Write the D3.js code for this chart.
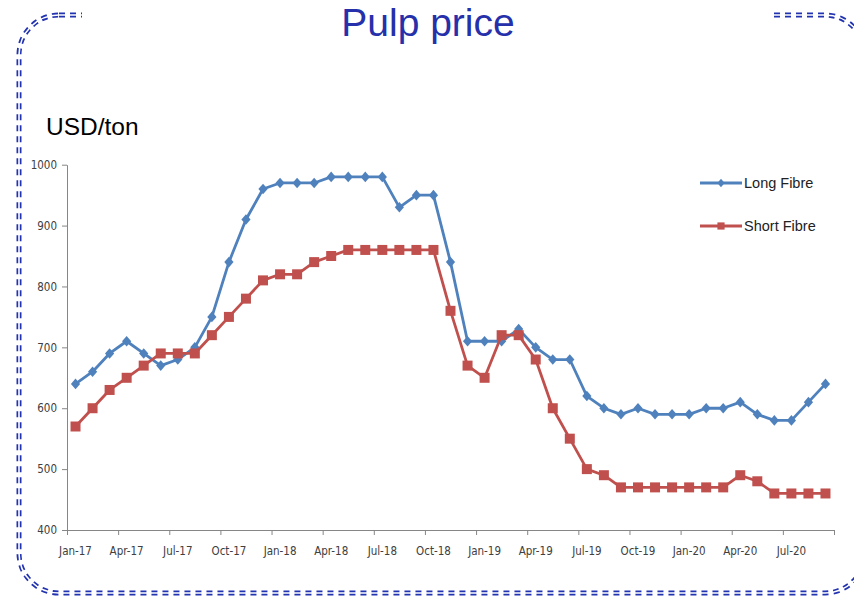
<!DOCTYPE html>
<html>
<head>
<meta charset="utf-8">
<script src="https://cdn.jsdelivr.net/npm/d3@7"></script>
<style>
  html, body { margin: 0; padding: 0; background: #fff; }
  svg { display: block; }
  .tick text { font-family: "Liberation Sans Narrow", "DejaVu Sans Condensed", "Liberation Sans", sans-serif; fill: #404040; }
</style>
</head>
<body>
<div id="chart"></div>
<script>
const months = [
  "Jan-17","Feb-17","Mar-17","Apr-17","May-17","Jun-17","Jul-17","Aug-17","Sep-17","Oct-17","Nov-17","Dec-17",
  "Jan-18","Feb-18","Mar-18","Apr-18","May-18","Jun-18","Jul-18","Aug-18","Sep-18","Oct-18","Nov-18","Dec-18",
  "Jan-19","Feb-19","Mar-19","Apr-19","May-19","Jun-19","Jul-19","Aug-19","Sep-19","Oct-19","Nov-19","Dec-19",
  "Jan-20","Feb-20","Mar-20","Apr-20","May-20","Jun-20","Jul-20","Aug-20","Sep-20"
];

const longFibre = [
  640, 660, 690, 710, 690, 670, 680, 700, 750, 840, 910, 960,
  970, 970, 970, 980, 980, 980, 980, 930, 950, 950, 840, 710,
  710, 710, 730, 700, 680, 680, 620, 600, 590, 600, 590, 590,
  590, 600, 600, 610, 590, 580, 580, 610, 640
];

const shortFibre = [
  570, 600, 630, 650, 670, 690, 690, 690, 720, 750, 780, 810,
  820, 820, 840, 850, 860, 860, 860, 860, 860, 860, 760, 670,
  650, 720, 720, 680, 600, 550, 500, 490, 470, 470, 470, 470,
  470, 470, 470, 490, 480, 460, 460, 460, 460
];

const yTicks = [400, 500, 600, 700, 800, 900, 1000];
const xLabels = months.filter((m, i) => i % 3 === 0);

const width = 854, height = 596;
const blue = "#4F81BD", red = "#C0504D", frame = "#2233b0";

const svg = d3.select("#chart").append("svg")
  .attr("width", width)
  .attr("height", height);

// rounded dashed frame (double line)
const fr = { x: 19, y: 15, w: 846, h: 578, r: 40 };
svg.append("rect")
  .attr("x", fr.x).attr("y", fr.y).attr("width", fr.w).attr("height", fr.h)
  .attr("rx", fr.r).attr("ry", fr.r)
  .attr("fill", "none").attr("stroke", frame)
  .attr("stroke-width", 5).attr("stroke-dasharray", "6 5");
svg.append("rect")
  .attr("x", fr.x).attr("y", fr.y).attr("width", fr.w).attr("height", fr.h)
  .attr("rx", fr.r).attr("ry", fr.r)
  .attr("fill", "none").attr("stroke", "#fff").attr("stroke-width", 1.6);

// title box covers the top of the frame
svg.append("rect").attr("x", 82).attr("y", 0).attr("width", 688).attr("height", 34).attr("fill", "#fff");
svg.append("text")
  .attr("x", 428).attr("y", 36)
  .attr("text-anchor", "middle")
  .attr("font-family", "Liberation Sans, Arial, sans-serif")
  .attr("font-size", 39)
  .attr("fill", "#2530aa")
  .text("Pulp price");

svg.append("text")
  .attr("x", 46).attr("y", 135)
  .attr("font-family", "Liberation Sans, Arial, sans-serif")
  .attr("font-size", 24.5)
  .attr("fill", "#000")
  .text("USD/ton");

const plot = { left: 67, right: 834, top: 164.7, bottom: 530 };

const x = d3.scaleBand().domain(months).range([plot.left, plot.right]).padding(0);
const xIdx = d3.scaleLinear().domain([0, months.length]).range([plot.left, plot.right]);
const y = d3.scaleLinear().domain([400, 1000]).range([plot.bottom, plot.top]);
const cx = m => x(m) + x.bandwidth() / 2;

// y axis
const yAxis = svg.append("g")
  .attr("transform", `translate(${plot.left},0)`)
  .call(d3.axisLeft(y).tickValues(yTicks).tickFormat(d3.format("d"))
    .tickSizeInner(5).tickSizeOuter(0).tickPadding(5));
yAxis.selectAll("text").attr("font-size", 11.5);

// x axis: tick marks at category boundaries, labels centred on categories
svg.append("g")
  .attr("transform", `translate(0,${plot.bottom})`)
  .call(d3.axisBottom(xIdx).tickValues(d3.range(0, months.length + 1, 3)).tickFormat("").tickSizeInner(5).tickSizeOuter(0));

const xLabelAxis = svg.append("g")
  .attr("transform", `translate(0,${plot.bottom})`)
  .call(d3.axisBottom(x).tickValues(xLabels).tickSize(0).tickPadding(17));
xLabelAxis.select(".domain").remove();
xLabelAxis.selectAll("text").attr("font-size", 11.5);

svg.selectAll(".domain, .tick line").attr("stroke", "#868686");

// series
const series = [
  { name: "Long Fibre", values: longFibre, color: blue, shape: "diamond" },
  { name: "Short Fibre", values: shortFibre, color: red, shape: "square" }
];

const markerPath = (shape, s) => shape === "diamond"
  ? `M0,${-s * 1.15}L${s},0L0,${s * 1.15}L${-s},0Z`
  : `M${-s},${-s}H${s}V${s}H${-s}Z`;

const line = d3.line().x((d, i) => cx(months[i])).y(d => y(d));

series.forEach(s => {
  svg.append("path")
    .attr("d", line(s.values))
    .attr("fill", "none")
    .attr("stroke", s.color)
    .attr("stroke-width", 2.8)
    .attr("stroke-linejoin", "round");

  svg.append("g").selectAll("path")
    .data(s.values)
    .join("path")
    .attr("transform", (d, i) => `translate(${cx(months[i])},${y(d)})`)
    .attr("d", markerPath(s.shape, s.shape === "diamond" ? 4.6 : 5))
    .attr("fill", s.color);
});

// legend
const legend = svg.append("g");
series.forEach((s, i) => {
  const ly = 183 + i * 43;
  legend.append("line")
    .attr("x1", 700).attr("x2", 742).attr("y1", ly).attr("y2", ly)
    .attr("stroke", s.color).attr("stroke-width", 2.8);
  legend.append("path")
    .attr("transform", `translate(721,${ly})`)
    .attr("d", markerPath(s.shape, 3.6))
    .attr("fill", s.color);
  legend.append("text")
    .attr("x", 744).attr("y", ly + 5)
    .attr("font-family", "Liberation Sans, Arial, sans-serif")
    .attr("font-size", 14.5)
    .attr("fill", "#222")
    .text(s.name);
});
</script>
</body>
</html>
